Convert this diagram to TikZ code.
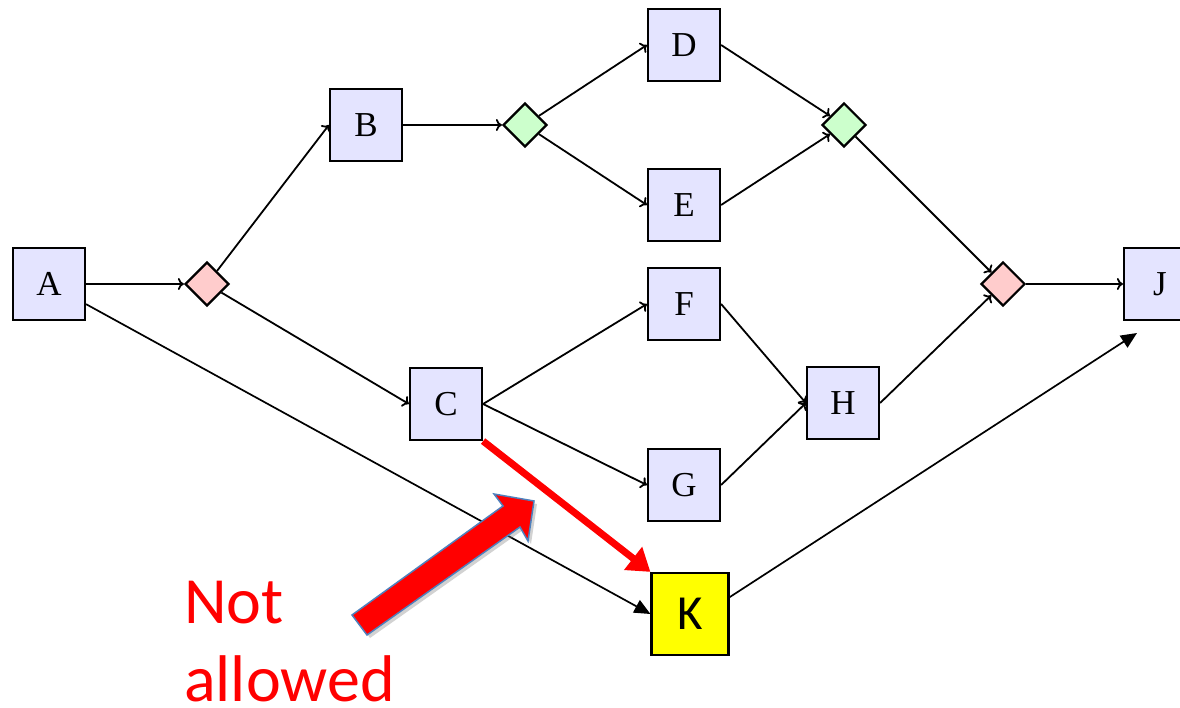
\documentclass[tikz,border=0pt]{standalone}
\usepackage{fontspec}
\setmainfont{Liberation Serif}
\newfontfamily\labelsans{Carlito}
\usetikzlibrary{shapes.geometric,arrows.meta,shadows}

\definecolor{boxfill}{RGB}{228,228,255}
\definecolor{orfill}{RGB}{255,204,204}
\definecolor{andfill}{RGB}{204,255,204}
\definecolor{kfill}{RGB}{255,255,0}
\definecolor{warnred}{RGB}{255,0,0}
\definecolor{outlineblue}{RGB}{79,129,189}

\begin{document}
\begin{tikzpicture}[x=1pt,y=-1pt,
  task/.style={draw, line width=2.2pt, fill=boxfill, minimum width=72pt, minimum height=72pt,
               inner sep=0pt, font=\fontsize{35}{35}\selectfont},
  orgate/.style={diamond, aspect=1, draw, line width=2.2pt, fill=orfill,
                 minimum width=44pt, minimum height=44pt, inner sep=0pt},
  andgate/.style={orgate, fill=andfill},
  flow/.style={line width=1.8pt, -{To[length=6pt,width=12pt]}},
  boldflow/.style={line width=1.7pt, -{Triangle[length=16pt,width=14pt]}},
  badflow/.style={line width=7pt, warnred, -{Triangle[length=22pt,width=28pt]}},
  note/.style={anchor=base west, inner sep=0pt, text depth=0pt, text=warnred,
               font=\labelsans\fontsize{66}{66}\selectfont}
]
\useasboundingbox (0,0) rectangle (1180,708);
\clip (0,0) rectangle (1180,708);
\fill[white] (0,0) rectangle (1180,708);

% tasks and gateways
\node[task] (A) at (49,284) {A};
\node[orgate] (d1) at (207,284) {};
\node[task] (B) at (366,125) {B};
\node[andgate] (g1) at (525,125) {};
\node[task] (D) at (684,45) {D};
\node[task] (E) at (684,205) {E};
\node[andgate] (g2) at (844,125) {};
\node[orgate] (d2) at (1003,284) {};
\node[task] (J) at (1160,284) {J};
\node[task] (C) at (446,404) {C};
\node[task] (F) at (684,304) {F};
\node[task] (G) at (684,485) {G};
\node[task] (H) at (843,403) {H};
\node[draw, line width=2.2pt, fill=kfill, minimum width=77pt, minimum height=82pt, inner sep=0pt,
      font=\labelsans\fontsize{49}{49}\selectfont] (K) at (690,614) {K};
\coordinate (Jin) at (1137,333);

% sequence flows
\draw[flow] (A) -- (d1);
\draw[flow] (d1) -- (B.west);
\draw[flow] (d1) -- (C.west);
\draw[flow] (B) -- (g1);
\draw[flow] (g1) -- (D.west);
\draw[flow] (g1) -- (E.west);
\draw[flow] (D.east) -- (g2);
\draw[flow] (E.east) -- (g2);
\draw[flow] (g2) -- (d2);
\draw[flow] (C.east) -- (F.west);
\draw[flow] (C.east) -- (G.west);
\draw[flow] (F.east) -- (H.west);
\draw[flow] (G.east) -- (H.west);
\draw[flow] (H.east) -- (d2);
\draw[flow] (d2) -- (J.west);

% added task K
\draw[boldflow] (A) -- (K.west);
\draw[boldflow] (K.23) -- (Jin);
\draw[badflow] (C.south east) -- (K.north west);

% pointer and note
\filldraw[fill=warnred, draw=outlineblue, line width=1.5pt,
          drop shadow={opacity=0.35, shadow xshift=3pt, shadow yshift=-3pt}]
  (352,615) -- (503,506) -- (494,494) -- (534,501) -- (528,541) -- (520,527) -- (367,635) -- cycle;
\node[note] (note1) at (184,623) {Not};
\node[note] (note2) at (184,701) {allowed};
\end{tikzpicture}
\end{document}
